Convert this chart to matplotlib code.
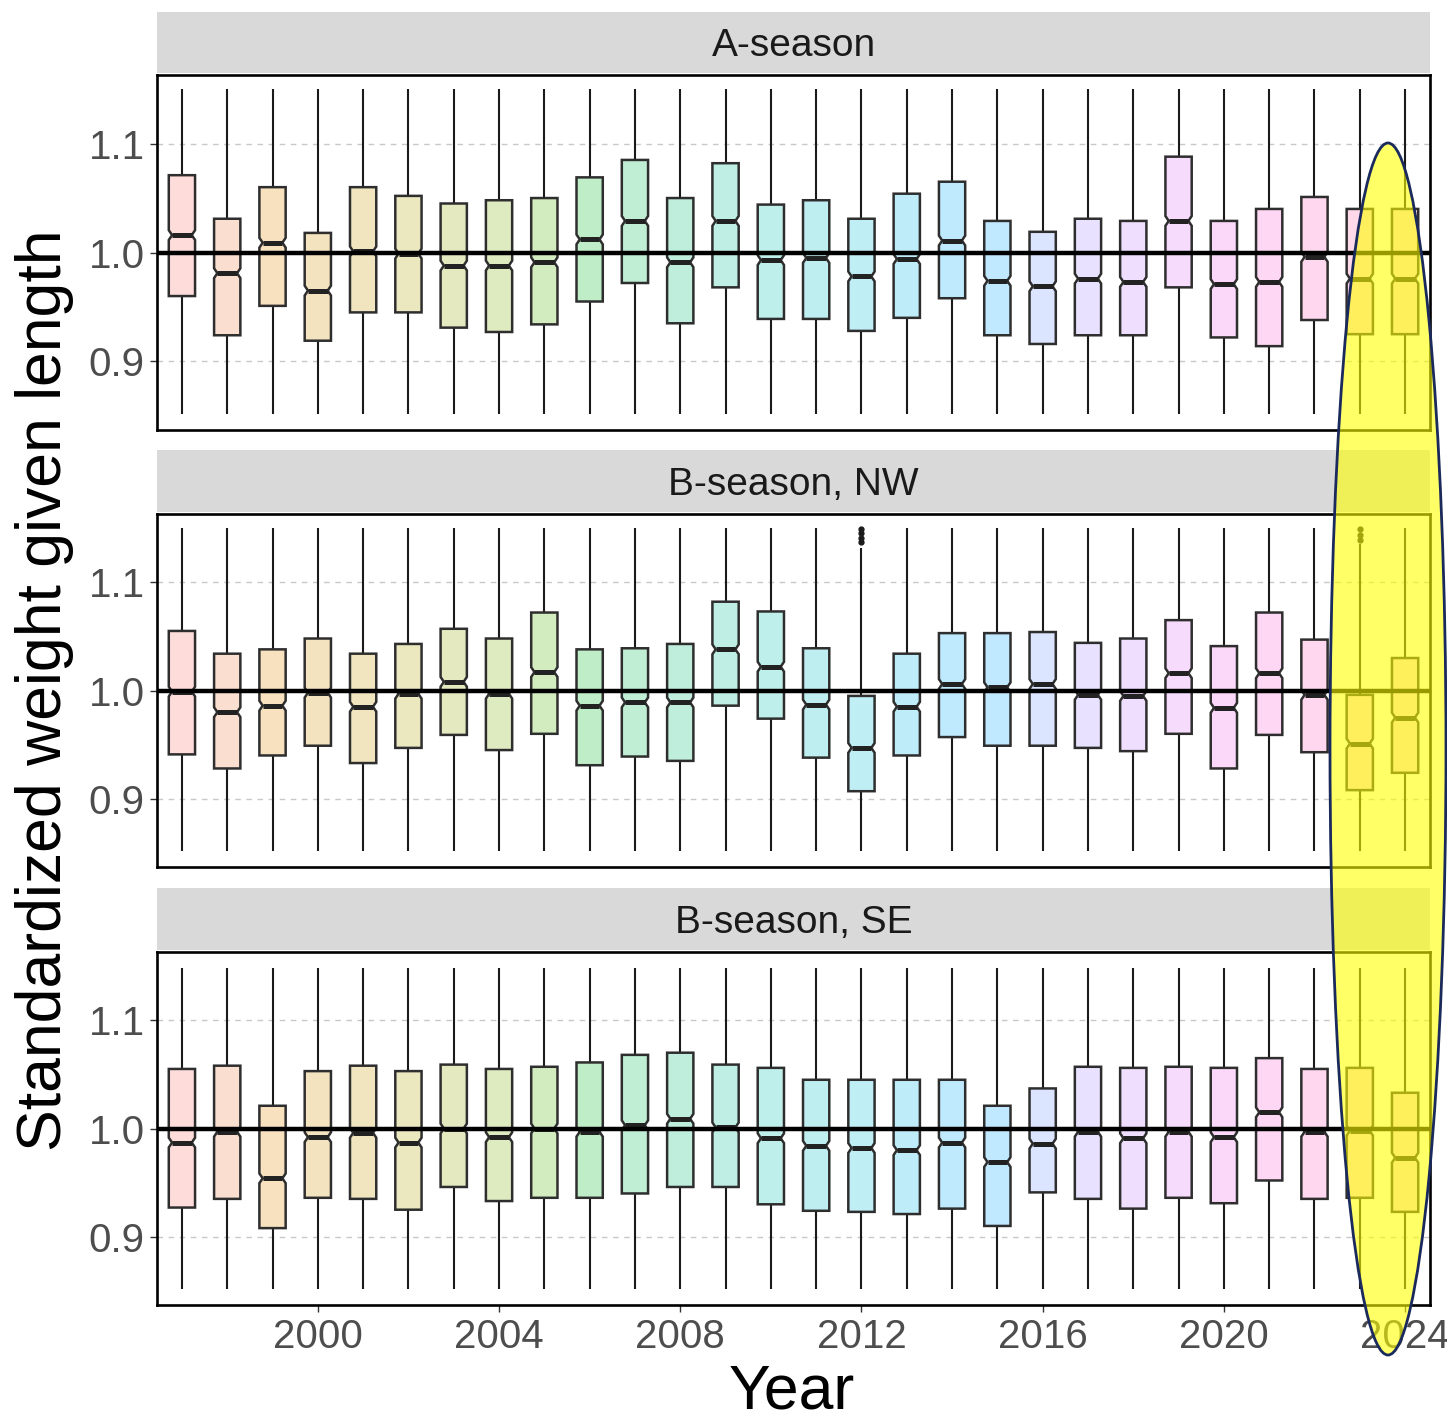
import numpy as np
import matplotlib
matplotlib.use("Agg")
import matplotlib.pyplot as plt
from matplotlib.patches import Polygon, Rectangle, Ellipse

plt.rcParams['font.family'] = ['Liberation Sans', 'DejaVu Sans']

# ---------------- data ----------------
years = list(range(1997, 2025))
panel_titles = ["A-season", "B-season, NW", "B-season, SE"]

# panel 1: A-season
a_q1  = [0.960, 0.924, 0.951, 0.919, 0.945, 0.945, 0.931, 0.927, 0.934, 0.955, 0.972, 0.935, 0.968, 0.939,
         0.939, 0.928, 0.940, 0.958, 0.924, 0.916, 0.924, 0.924, 0.968, 0.922, 0.914, 0.938, 0.925, 0.925]
a_med = [1.016, 0.981, 1.009, 0.965, 1.001, 0.999, 0.988, 0.988, 0.991, 1.012, 1.029, 0.991, 1.029, 0.993,
         0.995, 0.978, 0.994, 1.011, 0.974, 0.969, 0.976, 0.973, 1.029, 0.971, 0.973, 0.996, 0.976, 0.976]
a_q3  = [1.071, 1.031, 1.060, 1.018, 1.060, 1.052, 1.045, 1.048, 1.050, 1.069, 1.085, 1.050, 1.082, 1.044,
         1.048, 1.031, 1.054, 1.065, 1.029, 1.019, 1.031, 1.029, 1.088, 1.029, 1.040, 1.051, 1.040, 1.040]

# panel 2: B-season, NW
nw_q1  = [0.941, 0.928, 0.940, 0.949, 0.933, 0.947, 0.959, 0.945, 0.960, 0.931, 0.939, 0.935, 0.986, 0.974,
          0.938, 0.907, 0.940, 0.957, 0.949, 0.949, 0.947, 0.944, 0.960, 0.928, 0.959, 0.943, 0.908, 0.924]
nw_med = [0.999, 0.980, 0.986, 0.998, 0.985, 0.997, 1.008, 0.997, 1.017, 0.986, 0.989, 0.989, 1.038, 1.022,
          0.987, 0.947, 0.985, 1.006, 1.003, 1.006, 0.996, 0.995, 1.016, 0.984, 1.016, 0.996, 0.951, 0.975]
nw_q3  = [1.055, 1.034, 1.038, 1.048, 1.034, 1.043, 1.057, 1.048, 1.072, 1.038, 1.039, 1.043, 1.082, 1.073,
          1.039, 0.995, 1.034, 1.053, 1.053, 1.054, 1.044, 1.048, 1.065, 1.041, 1.072, 1.047, 0.996, 1.030]

# panel 3: B-season, SE
se_q1  = [0.927, 0.935, 0.908, 0.936, 0.935, 0.925, 0.946, 0.933, 0.936, 0.936, 0.940, 0.946, 0.946, 0.930,
          0.924, 0.923, 0.921, 0.926, 0.910, 0.941, 0.935, 0.926, 0.936, 0.931, 0.952, 0.935, 0.936, 0.923]
se_med = [0.987, 0.997, 0.954, 0.992, 0.996, 0.987, 1.000, 0.992, 1.000, 0.997, 1.003, 1.009, 1.001, 0.991,
          0.984, 0.982, 0.980, 0.987, 0.969, 0.986, 0.997, 0.991, 0.997, 0.992, 1.015, 0.997, 0.998, 0.973]
se_q3  = [1.055, 1.058, 1.021, 1.053, 1.058, 1.053, 1.059, 1.055, 1.057, 1.061, 1.068, 1.070, 1.059, 1.056,
          1.045, 1.045, 1.045, 1.045, 1.021, 1.037, 1.057, 1.056, 1.057, 1.056, 1.065, 1.055, 1.056, 1.033]

# whisker ends
whisk_lo = [0.852] * 28
a_hi  = [1.150] * 28
nw_hi = [1.150, 1.150, 1.150, 1.150, 1.150, 1.150, 1.150, 1.150, 1.150, 1.150, 1.150, 1.150, 1.150, 1.150,
         1.150, 1.132, 1.150, 1.150, 1.150, 1.150, 1.150, 1.150, 1.150, 1.150, 1.150, 1.150, 1.135, 1.150]
se_hi = [1.148] * 28

# outliers (year -> values), B-season NW only
nw_fliers = {2012: [1.137, 1.141, 1.145, 1.149], 2023: [1.139, 1.144, 1.149]}

notch_half = 0.0045     # half-height of the notch (value units)

panels = [
    (a_q1, a_med, a_q3, a_hi, {}),
    (nw_q1, nw_med, nw_q3, nw_hi, nw_fliers),
    (se_q1, se_med, se_q3, se_hi, {}),
]

# ---------------- colours (ggplot hue palette) ----------------
def hcl_to_rgb(h, c=100.0, l=65.0):
    hr = np.deg2rad(h)
    u, v = c * np.cos(hr), c * np.sin(hr)
    Xn, Yn, Zn = 95.047, 100.0, 108.883
    Y = Yn * ((l + 16) / 116) ** 3
    den = Xn + 15 * Yn + 3 * Zn
    un, vn = 4 * Xn / den, 9 * Yn / den
    up, vp = u / (13 * l) + un, v / (13 * l) + vn
    X = Y * 9 * up / (4 * vp)
    Z = Y * (12 - 3 * up - 20 * vp) / (4 * vp)
    X, Y, Z = X / 100, Y / 100, Z / 100
    rgb = np.array([3.2404542 * X - 1.5371385 * Y - 0.4985314 * Z,
                    -0.9692660 * X + 1.8760108 * Y + 0.0415560 * Z,
                    0.0556434 * X - 0.2040259 * Y + 1.0572252 * Z])
    rgb = np.where(rgb <= 0.0031308, 12.92 * rgb, 1.055 * np.abs(rgb) ** (1 / 2.4) - 0.055)
    return tuple(float(x) for x in np.clip(rgb, 0, 1))

hues = np.linspace(15, 375, len(years) + 1)[:-1]
colors = [hcl_to_rgb(h) for h in hues]

# ---------------- figure ----------------
W, H = 1447, 1420
fig = plt.figure(figsize=(W / 100, H / 100), dpi=100)
fig.patch.set_facecolor("white")

left, right = 157 / W, 1430 / W
panel_px = [(75, 430, 12), (514, 867, 450), (952, 1305, 888)]

box_w = 0.58
notch_in = 0.75  # notch width fraction
edge_col = "#2E2E2E"

axes = []
for i, ((q1, med, q3, hi, fl), (ptop, pbot, stop)) in enumerate(zip(panels, panel_px)):
    ax = fig.add_axes([left, 1 - pbot / H, right - left, (pbot - ptop) / H])
    axes.append(ax)
    ax.set_xlim(1996.45, 2024.55)
    ax.set_ylim(0.837, 1.163)
    ax.set_yticks([0.9, 1.0, 1.1])
    ax.set_yticklabels(["0.9", "1.0", "1.1"])
    for yv in [0.9, 1.1]:
        ax.axhline(yv, color="#C8C8C8", lw=1.0, ls=(0, (4, 4)), zorder=0)
    for j, yr in enumerate(years):
        lo_w, hi_w = whisk_lo[j], hi[j]
        ax.plot([yr, yr], [q3[j], hi_w], color="#1A1A1A", lw=1.5, zorder=2, solid_capstyle="butt")
        ax.plot([yr, yr], [lo_w, q1[j]], color="#1A1A1A", lw=1.5, zorder=2, solid_capstyle="butt")
        hw = box_w / 2
        nw_ = hw * notch_in
        m = med[j]
        nlo, nhi = m - notch_half, m + notch_half
        pts = [(yr - hw, q1[j]), (yr + hw, q1[j]), (yr + hw, nlo), (yr + nw_, m), (yr + hw, nhi),
               (yr + hw, q3[j]), (yr - hw, q3[j]), (yr - hw, nhi), (yr - nw_, m), (yr - hw, nlo)]
        poly = Polygon(pts, closed=True, facecolor=colors[j] + (0.25,), edgecolor=edge_col,
                       lw=1.8, zorder=3)
        ax.add_patch(poly)
        ax.plot([yr - nw_, yr + nw_], [m, m], color="#222222", lw=3.6, zorder=4, solid_capstyle="butt")
        if yr in fl:
            ax.plot([yr] * len(fl[yr]), fl[yr], "o", ms=3.5, color="#1A1A1A", zorder=4)
    ax.axhline(1.0, color="black", lw=3.2, zorder=5)
    for sp in ax.spines.values():
        sp.set_linewidth(1.9)
        sp.set_color("black")
    ax.tick_params(axis="y", length=5, width=1.0, color="#333333", labelsize=29,
                   labelcolor="#4D4D4D", pad=4)
    if i < 2:
        ax.tick_params(axis="x", bottom=False, labelbottom=False)
    else:
        ax.set_xticks([2000, 2004, 2008, 2012, 2016, 2020, 2024])
        ax.tick_params(axis="x", length=5, width=1.0, color="#333333", labelsize=29,
                       labelcolor="#4D4D4D", pad=4)
    # strip
    sy0 = 1 - (ptop - 2) / H
    sy1 = 1 - stop / H
    fig.add_artist(Rectangle((left, sy0), right - left, sy1 - sy0, transform=fig.transFigure,
                             facecolor="#D9D9D9", edgecolor="none", zorder=1))
    fig.text((left + right) / 2, (sy0 + sy1) / 2, panel_titles[i], ha="center",
             va="center_baseline", fontsize=28, color="#1A1A1A")

fig.text(45 / W, 1 - 690 / H, "Standardized weight given length", rotation=90,
         ha="center", va="center", fontsize=45, color="black")
fig.text(792 / W, 1 - 1392 / H, "Year", ha="center", va="center", fontsize=45, color="black")

# highlight ellipse
cx, cy = 1388 / W, 1 - 749 / H
fig.add_artist(Ellipse((cx, cy), 116 / W, 1212 / H, transform=fig.transFigure,
                       facecolor=(1, 1, 0, 0.6), edgecolor="#1B2A5C", lw=2.0, zorder=20))

fig.savefig("out.png", dpi=100)
